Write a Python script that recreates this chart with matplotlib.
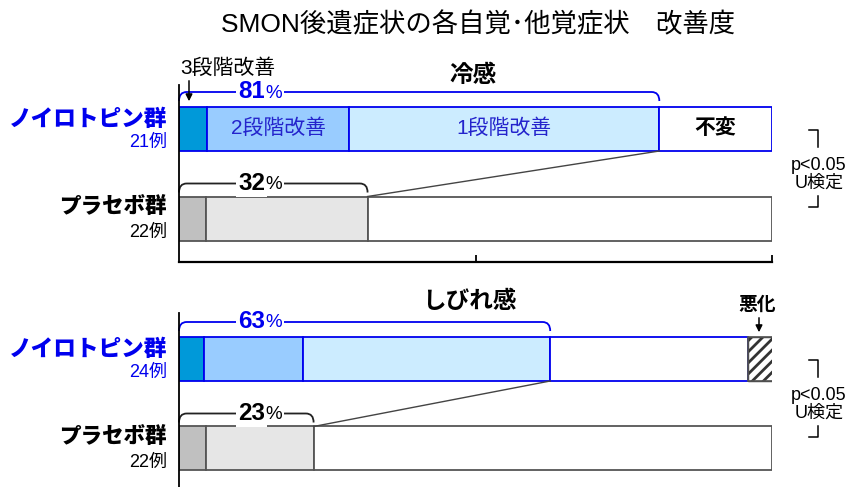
import matplotlib
matplotlib.use("Agg")
import matplotlib.pyplot as plt
from matplotlib.path import Path
from matplotlib.patches import PathPatch, FancyArrowPatch

plt.rcParams['font.family'] = ['Liberation Sans', 'Noto Sans CJK JP', 'DejaVu Sans']
plt.rcParams['hatch.linewidth'] = 2.0

W, H = 847, 487

# ---------------- data ----------------
title = "SMON後遺症状の各自覚･他覚症状　改善度"
panels = ["冷感", "しびれ感"]
groups = ["ノイロトピン群", "プラセボ群"]
n_cold = ["21例", "22例"]
n_numb = ["24例", "22例"]
segment_labels = ["3段階改善", "2段階改善", "1段階改善", "不変", "悪化"]

# percentages per segment (3段階, 2段階, 1段階, 不変, 悪化)
cold_neuro = [4.8, 23.8, 52.4, 19.0, 0.0]
numb_neuro = [4.2, 16.7, 41.7, 33.3, 4.2]
# placebo: (dark improved, light improved, rest)
cold_placebo = [4.5, 27.3, 68.2]
numb_placebo = [4.5, 18.2, 77.3]

improved_cold = ["81", "32"]
improved_numb = ["63", "23"]
stat_text = ["p<0.05", "U検定"]

# ---------------- style ----------------
BLUE = "#0000EE"
SEG_BLUE = "#2424CC"
neuro_colors = ["#0099D9", "#99CCFF", "#CCECFF", "#FFFFFF", "#FFFFFF"]
placebo_colors = ["#C0C0C0", "#E6E6E6", "#FFFFFF"]
GRAY_EDGE = "#555555"

fig = plt.figure(figsize=(W / 100, H / 100), dpi=100)
fig.patch.set_facecolor("white")

X0, X1 = 179, 772


def fx(x):
    return x / W


def fy(y):
    return 1 - y / H


def make_ax(top, bottom, show_bottom):
    ax = fig.add_axes([fx(X0), fy(bottom), (X1 - X0) / W, (bottom - top) / H])
    ax.set_xlim(0, 100)
    ax.set_ylim(bottom, top)
    for s in ["top", "right"]:
        ax.spines[s].set_visible(False)
    ax.spines["left"].set_linewidth(1.3)
    ax.spines["bottom"].set_linewidth(1.6)
    ax.spines["bottom"].set_visible(show_bottom)
    ax.set_yticks([])
    if show_bottom:
        ax.set_xticks([50, 100])
        ax.tick_params(axis="x", direction="in", length=5, width=1.3, labelbottom=False)
    else:
        ax.set_xticks([])
    ax.patch.set_alpha(0)
    return ax


def bracket(ax, x0, x1, y, color, drop=9, r=1.3):
    verts = [(x0, y + drop), (x0, y), (x0 + r, y), (x1 - r, y), (x1, y), (x1, y + drop)]
    codes = [Path.MOVETO, Path.CURVE3, Path.CURVE3, Path.LINETO, Path.CURVE3, Path.CURVE3]
    ax.add_patch(PathPatch(Path(verts, codes), fill=False, edgecolor=color, lw=1.3,
                           clip_on=False))


def pct_label(ax, val, y, color):
    ax.text(14.5, y, val, ha="right", va="center", fontsize=17.5, fontweight="bold",
            color=color, bbox=dict(facecolor="white", edgecolor="none", pad=1.5),
            clip_on=False)
    ax.text(14.6, y + 1, "%", ha="left", va="center", fontsize=13.5, color=color,
            bbox=dict(facecolor="white", edgecolor="none", pad=1.0), clip_on=False)


def draw_panel(ax, neuro, placebo, yc_n, yc_p, improved, label_segments):
    h = 44
    left = 0
    for i, v in enumerate(neuro):
        if v <= 0:
            continue
        if i == 4:
            ax.barh(yc_n, v, left=left, height=h, color="white", edgecolor="#333333",
                    hatch="///", linewidth=1.0)
            ax.barh(yc_n, v, left=left, height=h, color="none", edgecolor=GRAY_EDGE,
                    linewidth=1.2)
        else:
            ax.barh(yc_n, v, left=left, height=h, color=neuro_colors[i], edgecolor=BLUE,
                    linewidth=1.3)
            if label_segments and i in (1, 2):
                ax.text(left + v / 2, yc_n - 1, segment_labels[i], ha="center", va="center",
                        fontsize=15, color=SEG_BLUE)
            if label_segments and i == 3:
                ax.text(left + v / 2, yc_n - 1, segment_labels[i], ha="center", va="center",
                        fontsize=15, fontweight="bold", color="black")
        left += v
    left = 0
    for i, v in enumerate(placebo):
        ax.barh(yc_p, v, left=left, height=h, color=placebo_colors[i], edgecolor=GRAY_EDGE,
                linewidth=1.3)
        left += v
    imp_n = sum(neuro[:3])
    imp_p = sum(placebo[:2])
    # connecting line
    ax.plot([imp_n, imp_p], [yc_n + h / 2, yc_p - h / 2], color="#444444", lw=1.0,
            clip_on=False)
    # brackets
    bracket(ax, 0, imp_n, yc_n - h / 2 - 15, BLUE)
    bracket(ax, 0, imp_p, yc_p - h / 2 - 13, "#222222")
    pct_label(ax, improved[0], yc_n - h / 2 - 15, BLUE)
    pct_label(ax, improved[1], yc_p - h / 2 - 13, "black")


def group_labels(yc_n, yc_p, ns):
    fig.text(fx(167), fy(yc_n - 10), groups[0], ha="right", va="center", fontsize=16.3,
             fontweight="heavy", color=BLUE)
    fig.text(fx(167), fy(yc_n + 13), ns[0], ha="right", va="center", fontsize=13,
             color=BLUE)
    fig.text(fx(167), fy(yc_p - 11), groups[1], ha="right", va="center", fontsize=15.5,
             fontweight="heavy", color="black")
    fig.text(fx(167), fy(yc_p + 14), ns[1], ha="right", va="center", fontsize=13,
             color="black")


def stat_bracket(ytop):
    fig.add_artist(plt.Line2D([fx(809), fx(818), fx(818)], [fy(ytop), fy(ytop), fy(ytop + 17)],
                              color="black", lw=1.1))
    fig.text(fx(819), fy(ytop + 35), stat_text[0], ha="center", va="center", fontsize=13)
    fig.text(fx(819), fy(ytop + 53), stat_text[1], ha="center", va="center", fontsize=13)
    fig.add_artist(plt.Line2D([fx(818), fx(818), fx(809)], [fy(ytop + 66), fy(ytop + 77), fy(ytop + 77)],
                              color="black", lw=1.1))


fig.text(fx(478), fy(25), title, ha="center", va="center", fontsize=19)

# panel 1
ax1 = make_ax(85, 262, True)
draw_panel(ax1, cold_neuro, cold_placebo, 129, 218.5, improved_cold, True)
ax1.text(49.6, 75, panels[0], ha="center", va="center", fontsize=17, fontweight="bold",
         clip_on=False)
fig.text(fx(180), fy(68), segment_labels[0], ha="left", va="center", fontsize=15)
fig.add_artist(FancyArrowPatch((fx(189), fy(78)), (fx(189), fy(104)),
                               transform=fig.transFigure,
                               arrowstyle="-|>", mutation_scale=10,
                               color="black", lw=1.1))
group_labels(129, 218.5, n_cold)
stat_bracket(130)

# panel 2
ax2 = make_ax(313, 500, False)
draw_panel(ax2, numb_neuro, numb_placebo, 359, 448.5, improved_numb, False)
ax2.text(49, 302, panels[1], ha="center", va="center", fontsize=17, fontweight="bold",
         clip_on=False)
fig.text(fx(757), fy(305), segment_labels[4], ha="center", va="center", fontsize=13.5,
         fontweight="bold")
fig.add_artist(FancyArrowPatch((fx(759), fy(315)), (fx(759), fy(335)),
                               transform=fig.transFigure,
                               arrowstyle="-|>", mutation_scale=10,
                               color="black", lw=1.1))
group_labels(359, 448.5, n_numb)
stat_bracket(360)

fig.savefig("out.png", dpi=100, facecolor="white")
